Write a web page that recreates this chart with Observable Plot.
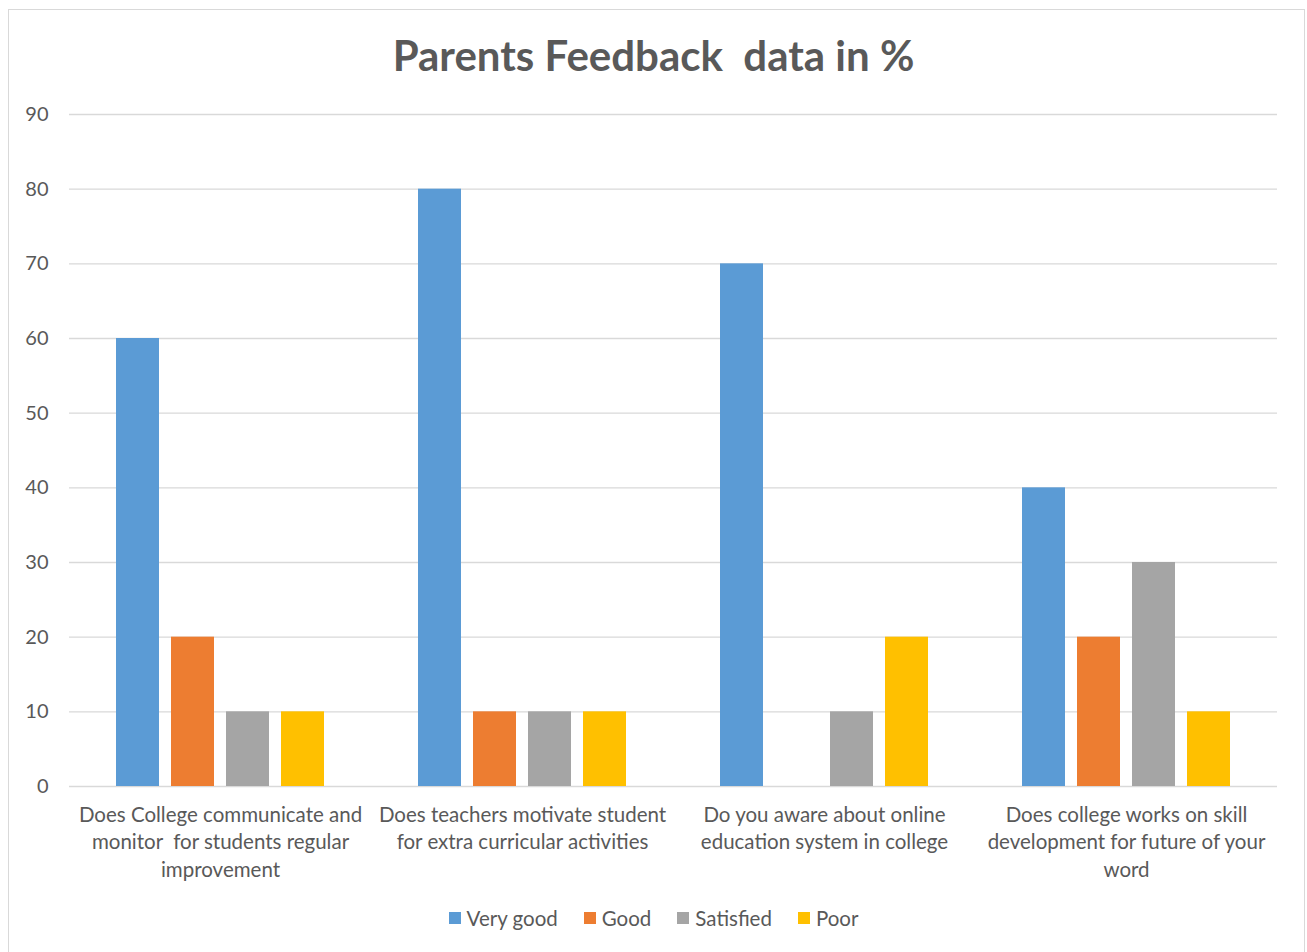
<!DOCTYPE html>
<html><head><meta charset="utf-8">
<script src="https://cdn.jsdelivr.net/npm/d3@7"></script>
<script src="https://cdn.jsdelivr.net/npm/@observablehq/plot@0.6"></script>
<style>
body{margin:0;background:#fff;font-family:Lato, "Open Sans", sans-serif;}
#frame{position:absolute;left:8px;top:9px;width:1297px;height:960px;border:1px solid #d9d9d9;box-sizing:border-box;}
#title{position:absolute;left:0;top:30px;width:1307px;text-align:center;font-weight:bold;font-size:42px;line-height:50px;color:#595959;white-space:pre;}
#chart{position:absolute;left:0;top:100px;}
#legend{position:absolute;left:0;top:906px;width:1307px;display:flex;justify-content:center;gap:26px;font-size:20.5px;color:#595959;}
#legend .item{display:flex;align-items:center;}
#legend .sw{display:inline-block;width:12px;height:12px;margin-right:6px;}
</style></head>
<body>
<div id="frame"></div>
<div id="title"></div>
<div id="chart"></div>
<div id="legend"></div>
<script>
const titleText = "Parents Feedback  data in %";
const categories = [
  "Does College communicate and\nmonitor  for students regular\nimprovement",
  "Does teachers motivate student\nfor extra curricular activities",
  "Do you aware about online\neducation system in college",
  "Does college works on skill\ndevelopment for future of your\nword"
];
const series = ["Very good", "Good", "Satisfied", "Poor"];
const colors = ["#5B9BD5", "#ED7D31", "#A5A5A5", "#FFC000"];
const veryGood = [60, 80, 70, 40];
const good = [20, 10, 0, 20];
const satisfied = [10, 10, 10, 30];
const poor = [10, 10, 20, 10];
const yTicks = [0, 10, 20, 30, 40, 50, 60, 70, 80, 90];

const valuesBySeries = [veryGood, good, satisfied, poor];
const data = [];
categories.forEach((c, i) => series.forEach((s, j) => data.push({category: c, series: s, value: valuesBySeries[j][i]})));

document.getElementById("title").textContent = titleText;

const chart = Plot.plot({
  width: 1307, height: 800,
  marginTop: 14, marginBottom: 114, marginLeft: 68, marginRight: 30,
  style: {fontFamily: "Lato, 'Open Sans', sans-serif", fontSize: "20px", color: "#595959", background: "transparent"},
  fx: {domain: categories, padding: 0, label: null},
  x: {domain: series, paddingInner: 0.218, paddingOuter: 0.82, axis: null},
  y: {domain: [0, 90], label: null},
  color: {domain: series, range: colors},
  marks: [
    Plot.gridY(yTicks, {stroke: "#d9d9d9", strokeOpacity: 1, strokeWidth: 1.3}),
    Plot.axisY(yTicks, {tickSize: 0, tickPadding: 21, fontSize: 20, fill: "#595959", label: null}),
    Plot.axisFx({anchor: "bottom", tickSize: 0, tickPadding: 16, fontSize: 20.5, lineHeight: 1.34, fill: "#595959", label: null}),
    Plot.barY(data, {fx: "category", x: "series", y: "value", fill: "series"})
  ]
});
document.getElementById("chart").appendChild(chart);

const legend = document.getElementById("legend");
series.forEach((s, i) => {
  const it = document.createElement("div"); it.className = "item";
  const sw = document.createElement("span"); sw.className = "sw"; sw.style.background = colors[i];
  const t = document.createElement("span"); t.textContent = s;
  it.appendChild(sw); it.appendChild(t); legend.appendChild(it);
});
</script>
</body></html>
